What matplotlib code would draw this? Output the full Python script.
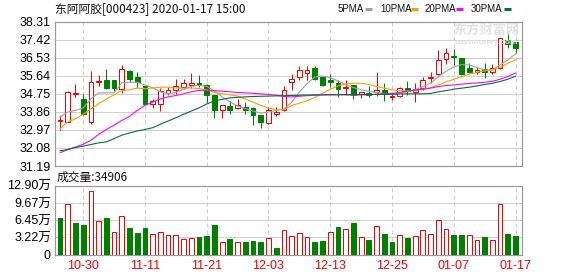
import matplotlib
matplotlib.use("Agg")
import matplotlib.pyplot as plt
from matplotlib.lines import Line2D
import numpy as np

# ---- data ----
dates = ["10-25", "10-28", "10-29", "10-30", "10-31", "11-01", "11-04", "11-05", "11-06", "11-07",
         "11-08", "11-11", "11-12", "11-13", "11-14", "11-15", "11-18", "11-19", "11-20", "11-21",
         "11-22", "11-25", "11-26", "11-27", "11-28", "11-29", "12-02", "12-03", "12-04", "12-05",
         "12-06", "12-09", "12-10", "12-11", "12-12", "12-13", "12-16", "12-17", "12-18", "12-19",
         "12-20", "12-23", "12-24", "12-25", "12-26", "12-27", "12-30", "12-31", "01-02", "01-03",
         "01-06", "01-07", "01-08", "01-09", "01-10", "01-13", "01-14", "01-15", "01-16", "01-17"]
opens = [33.42, 33.38, 34.74, 34.52, 33.38, 35.32, 35.42, 35.42, 34.97, 35.89,
         35.60, 35.16, 34.23, 34.26, 34.78, 34.95, 35.08, 35.21, 35.29, 35.21,
         34.67, 33.97, 34.13, 34.06, 34.10, 34.06, 33.69, 33.31, 33.77, 33.93,
         35.35, 35.57, 35.76, 36.01, 35.60, 35.44, 35.27, 35.03, 35.19, 34.73,
         34.81, 34.83, 34.95, 34.57, 34.62, 35.03, 34.86, 35.06, 35.55, 35.72,
         36.45, 36.64, 36.50, 36.01, 35.85, 35.96, 35.85, 36.01, 37.41, 37.32]
highs = [33.70, 34.90, 35.22, 34.75, 35.90, 35.70, 35.97, 35.42, 36.19, 35.94,
         35.81, 35.16, 34.50, 35.04, 35.11, 35.49, 35.49, 35.78, 35.70, 35.24,
         34.67, 34.18, 34.42, 34.50, 34.37, 34.10, 33.69, 34.10, 34.10, 35.16,
         35.71, 36.14, 36.11, 36.11, 35.60, 35.71, 35.44, 35.44, 35.19, 34.86,
         35.16, 35.84, 35.27, 34.78, 35.08, 35.36, 35.27, 35.57, 35.85, 36.91,
         36.99, 36.95, 36.50, 36.29, 36.09, 36.26, 36.21, 37.49, 37.73, 37.41]
lows = [32.98, 33.36, 34.60, 33.70, 33.25, 35.16, 35.00, 34.88, 34.80, 35.32,
        35.04, 34.20, 34.06, 33.90, 34.67, 34.75, 34.99, 35.04, 35.11, 34.31,
        33.56, 33.56, 33.77, 34.01, 33.77, 33.20, 33.07, 33.25, 33.66, 33.90,
        34.95, 35.44, 35.44, 35.44, 35.16, 35.08, 34.59, 34.70, 34.50, 34.54,
        34.57, 34.62, 34.41, 34.46, 34.57, 34.70, 34.37, 34.95, 35.27, 35.68,
        36.21, 36.18, 35.68, 35.77, 35.73, 35.52, 35.72, 35.96, 36.99, 36.75]
closes = [33.46, 34.84, 34.78, 33.76, 35.34, 35.37, 35.03, 35.05, 36.00, 35.50,
          35.32, 34.23, 34.42, 34.88, 34.95, 35.16, 35.29, 35.27, 35.17, 34.67,
          33.93, 34.18, 33.93, 34.18, 33.97, 33.69, 33.36, 33.93, 33.85, 34.95,
          35.48, 35.93, 35.95, 35.49, 35.21, 35.32, 34.98, 35.11, 34.70, 34.86,
          34.70, 34.95, 34.75, 34.62, 35.03, 34.91, 34.98, 35.44, 35.60, 36.42,
          36.75, 36.55, 35.73, 35.85, 35.93, 35.85, 36.01, 37.49, 37.21, 36.99]
ma5 = [33.61, 33.85, 33.93, 34.06, 34.50, 34.80, 34.80, 34.80, 35.29, 35.32,
       35.32, 35.19, 35.05, 34.85, 34.75, 34.82, 34.98, 35.12, 35.18, 35.12,
       34.89, 34.60, 34.36, 34.15, 34.03, 33.90, 33.80, 33.85, 33.93, 34.00,
       34.33, 34.84, 35.25, 35.58, 35.63, 35.55, 35.39, 35.20, 35.06, 34.95,
       34.87, 34.82, 34.76, 34.74, 34.78, 34.86, 34.96, 35.10, 35.28, 35.60,
       35.86, 36.08, 36.19, 36.18, 36.05, 35.93, 35.93, 36.18, 36.42, 36.72]
ma10 = [33.03, 33.36, 33.52, 33.74, 34.01, 34.26, 34.50, 34.70, 34.91, 34.95,
        35.04, 35.00, 35.04, 35.08, 35.08, 35.04, 35.03, 35.04, 35.01, 34.95,
        34.83, 34.75, 34.70, 34.64, 34.50, 34.34, 34.18, 34.05, 33.97, 33.97,
        34.18, 34.29, 34.41, 34.57, 34.78, 34.98, 35.14, 35.24, 35.27, 35.27,
        35.22, 35.11, 35.03, 34.95, 34.90, 34.90, 34.91, 34.98, 35.06, 35.19,
        35.34, 35.47, 35.60, 35.72, 35.82, 35.88, 35.93, 36.06, 36.26, 36.43]
ma20 = [31.84, 32.00, 32.13, 32.26, 32.46, 32.75, 32.99, 33.20, 33.44, 33.64,
        33.93, 34.18, 34.34, 34.50, 34.60, 34.67, 34.75, 34.85, 34.92, 34.93,
        34.91, 34.88, 34.85, 34.82, 34.80, 34.78, 34.75, 34.72, 34.68, 34.62,
        34.60, 34.63, 34.66, 34.68, 34.70, 34.70, 34.70, 34.70, 34.68, 34.70,
        34.70, 34.73, 34.75, 34.77, 34.82, 34.90, 34.93, 34.98, 35.03, 35.11,
        35.16, 35.19, 35.23, 35.26, 35.29, 35.32, 35.37, 35.47, 35.60, 35.78]
ma30 = [31.94, 32.00, 32.10, 32.17, 32.25, 32.33, 32.38, 32.54, 32.71, 32.82,
        32.92, 32.99, 33.08, 33.25, 33.41, 33.57, 33.74, 33.90, 34.06, 34.25,
        34.40, 34.48, 34.55, 34.58, 34.60, 34.62, 34.63, 34.64, 34.65, 34.66,
        34.67, 34.68, 34.69, 34.70, 34.70, 34.71, 34.71, 34.72, 34.72, 34.72,
        34.72, 34.72, 34.73, 34.73, 34.74, 34.75, 34.75, 34.75, 34.77, 34.85,
        34.91, 34.98, 35.03, 35.08, 35.14, 35.21, 35.27, 35.36, 35.47, 35.62]
volumes = [69200, 94700, 59800, 55500, 119000, 62900, 69200, 42400, 72300, 50500,
           41100, 50500, 38600, 42400, 36800, 36800, 29300, 31200, 33700, 35500,
           55500, 23700, 29900, 23700, 24300, 26200, 24300, 31200, 13100, 46100,
           34900, 39900, 32400, 24300, 26200, 42400, 51700, 47400, 59800, 32400,
           27400, 53600, 38600, 24300, 36800, 31200, 34900, 46100, 38600, 64800,
           47400, 36800, 36800, 36800, 27400, 33000, 27400, 94700, 38600, 34906]
vol_up = [0, 1, 0, 0, 1, 1, 0, 1, 1, 0, 0, 0, 1, 1, 1, 1, 1, 1, 0, 0,
          0, 1, 0, 1, 0, 0, 0, 1, 0, 1, 1, 1, 1, 0, 0, 1, 0, 1, 0, 1,
          0, 1, 0, 0, 1, 0, 1, 1, 1, 1, 1, 0, 0, 1, 1, 0, 1, 1, 0, 0]
price_ticks = [31.19, 32.08, 32.97, 33.86, 34.75, 35.64, 36.53, 37.42, 38.31]
vol_ticks = [0, 32250, 64500, 96750, 129000]
vol_tick_labels = ["0", "3.22万", "6.45万", "9.67万", "12.90万"]
date_ticks = ["10-30", "11-11", "11-21", "12-03", "12-13", "12-25", "01-07", "01-17"]

RED, GREEN = "#ff0000", "#008000"
MA_STYLE = [("5PMA", ma5, "#a0a0a0"), ("10PMA", ma10, "#f5a200"),
            ("20PMA", ma20, "#ff00ff"), ("30PMA", ma30, "#00703c")]
NUM_FONT = ["Liberation Sans", "Noto Sans CJK SC"]
CJK_FONT = ["Noto Sans CJK SC", "DejaVu Sans"]

W, H = 578, 276
px = 0.72  # one pixel in points at dpi 100

fig = plt.figure(figsize=(W / 100, H / 100), dpi=100)
L, R = 55, 522
ax = fig.add_axes([L / W, 1 - 166 / H, (R - L) / W, (166 - 21.7) / H])
axv = fig.add_axes([L / W, 1 - 254.7 / H, (R - L) / W, 69 / H])

x = np.arange(len(dates))
o, h, l, c = map(np.array, (opens, highs, lows, closes))
up = c >= o
cols = [RED if u else GREEN for u in up]
tick_pos = [dates.index(d) for d in date_ticks]

# candles
ax.vlines(x, l, h, colors=cols, lw=px, zorder=2)
ax.bar(x, np.abs(c - o), bottom=np.minimum(o, c), width=0.62,
       color=["white" if u else GREEN for u in up], edgecolor=cols, lw=px, zorder=3)
for name, vals, col in MA_STYLE:
    ax.plot(x, vals, color=col, lw=px * 1.1, zorder=4)

# volume
vcols = [RED if u else GREEN for u in vol_up]
axv.bar(x, volumes, width=0.62, color=["white" if u else GREEN for u in vol_up],
        edgecolor=vcols, lw=px, zorder=3)

for a in (ax, axv):
    a.set_xlim(-0.65, 59.84)
    a.set_xticks(tick_pos)
    a.grid(True, axis="y", color="#d0d0d0", lw=px, ls="-", zorder=0)
    a.grid(True, axis="x", color="#cccccc", lw=px, ls=(0, (4, 3)), zorder=0)
    a.tick_params(length=0, pad=3, labelsize=9)
    for s in a.spines.values():
        s.set_color("#999999")
        s.set_linewidth(px * 1.2)

ax.set_ylim(price_ticks[0], price_ticks[-1])
ax.set_yticks(price_ticks)
ax.set_yticklabels([f"{t:.2f}" for t in price_ticks], family=NUM_FONT)
ax.tick_params(labelbottom=False)

axv.set_ylim(0, vol_ticks[-1])
axv.set_yticks(vol_ticks)
axv.set_yticklabels(vol_tick_labels, family=NUM_FONT)
axv.set_xticklabels(date_ticks, color=RED, family=NUM_FONT)
axv.tick_params(axis="x", pad=4)

# header texts
fig.text(L / W, 1 - 9 / H, "东阿阿胶[000423] 2020-01-17 15:00", ha="left", va="center",
         fontsize=8.5, family=CJK_FONT, color="#111111")
fig.text(57 / W, 1 - 177 / H, "成交量:34906", ha="left", va="center",
         fontsize=8.5, family=CJK_FONT, color="#111111")

legend_pos = [(338, 365), (380, 411), (425, 456), (471, 504)]
for (name, _, col), (tx, lx) in zip(MA_STYLE, legend_pos):
    fig.text(tx / W, 1 - 9 / H, name, ha="left", va="center", fontsize=7,
             family=NUM_FONT, color="#111111")
    fig.add_artist(Line2D([lx / W, (lx + 7) / W], [1 - 9 / H, 1 - 9 / H],
                          color=col, lw=3 * px, solid_capstyle="butt"))

# watermark
fig.text(486 / W, 1 - 30 / H, "东方财富网", ha="center", va="center", fontsize=9.5,
         family=CJK_FONT, weight="bold", color="#e2e2e2", zorder=0)
fig.text(486 / W, 1 - 43 / H, "eastmoney.com", ha="center", va="center", fontsize=6,
         family=NUM_FONT, weight="bold", color="#e2e2e2", zorder=0)

fig.savefig("out.png", dpi=100)
